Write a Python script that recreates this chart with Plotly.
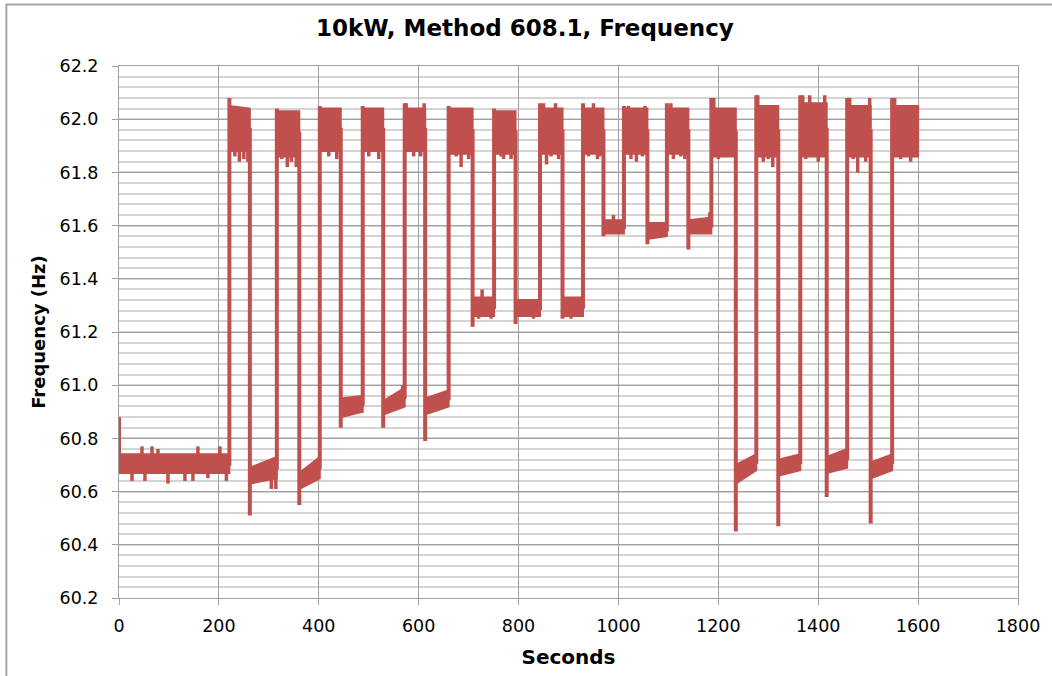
import plotly.graph_objects as go

# ---- data ----
# each segment: start time (s), band low/high at start and at end, transition overshoot
seg_start = [0, 221, 262, 316, 361, 402, 444, 488, 529, 572, 613, 660, 708, 751, 794, 843,
             888, 929, 970, 1011, 1058, 1097, 1140, 1186, 1235, 1276, 1320, 1364, 1417, 1458, 1505, 1548]
end_time = 1600
lo_start = [60.67, 61.88, 60.63, 61.86, 60.61, 61.88, 60.88, 61.88, 60.89, 61.88, 60.89, 61.87, 61.26, 61.87, 61.26, 61.87,
            61.26, 61.87, 61.57, 61.87, 61.55, 61.87, 61.57, 61.86, 60.63, 61.86, 60.66, 61.86, 60.67, 61.86, 60.65, 61.86]
hi_start = [60.74, 62.05, 60.69, 62.03, 60.67, 62.04, 60.95, 62.04, 60.94, 62.04, 60.95, 62.04, 61.33, 62.03, 61.32, 62.04,
            61.33, 62.04, 61.62, 62.04, 61.61, 62.04, 61.62, 62.04, 60.70, 62.05, 60.72, 62.06, 60.73, 62.05, 60.71, 62.05]
lo_end = [60.67, 61.88, 60.65, 61.86, 60.65, 61.88, 60.90, 61.88, 60.92, 61.88, 60.92, 61.87, 61.26, 61.87, 61.26, 61.87,
          61.26, 61.87, 61.57, 61.87, 61.56, 61.87, 61.57, 61.86, 60.68, 61.86, 60.68, 61.86, 60.69, 61.86, 60.68, 61.86]
hi_end = [60.74, 62.04, 60.73, 62.03, 60.73, 62.04, 60.96, 62.04, 60.99, 62.04, 60.98, 62.04, 61.33, 62.03, 61.32, 62.04,
          61.33, 62.04, 61.62, 62.04, 61.61, 62.04, 61.63, 62.04, 60.74, 62.05, 60.74, 62.06, 60.76, 62.05, 60.74, 62.05]
overshoot = [60.88, 62.08, 60.51, 62.04, 60.55, 62.05, 60.84, 62.05, 60.84, 62.06, 60.79, 62.05, 61.22, 62.04, 61.23, 62.06,
             61.25, 62.06, 61.56, 62.05, 61.53, 62.06, 61.51, 62.08, 60.45, 62.09, 60.47, 62.09, 60.58, 62.08, 60.48, 62.08]

# isolated excursions beyond the band
spike_t = [26, 52, 98, 132, 148, 178, 215, 46, 66, 78, 158, 202, 305, 314, 241, 258, 337, 355,
           685, 770, 856, 958, 1036, 1133, 1309, 1479,
           575, 611, 850, 874, 950, 1020, 1053, 1105, 1191, 1279, 1369, 1383, 1413, 1463, 1503, 1553,
           727, 990, 1183, 568, 720, 745, 830, 905,
           232, 250, 326, 345, 420, 436, 500, 520, 590, 604, 675, 700, 765, 785, 865, 880, 940, 962,
           1025, 1048, 1110, 1125, 1200, 1220, 1290, 1300, 1375, 1400, 1470, 1495, 1565, 1585]
spike_f = [60.64, 60.64, 60.63, 60.64, 60.64, 60.65, 60.64, 60.77, 60.77, 60.76, 60.77, 60.77, 60.61, 60.61, 61.84, 61.84, 61.82, 61.82,
           61.82, 61.85, 61.83, 61.85, 61.84, 61.85, 61.82, 61.80,
           62.06, 62.06, 62.06, 62.06, 62.06, 62.05, 62.05, 62.06, 62.08, 62.09, 62.09, 62.09, 62.09, 62.08, 62.08, 62.08,
           61.36, 61.64, 61.65, 61.00, 61.25, 61.25, 61.25, 61.25,
           61.86, 61.85, 61.85, 61.84, 61.86, 61.85, 61.86, 61.85, 61.86, 61.86, 61.86, 61.85, 61.86, 61.85, 61.86, 61.85, 61.86, 61.86,
           61.85, 61.86, 61.85, 61.86, 61.85, 61.86, 61.84, 61.85, 61.85, 61.84, 61.85, 61.84, 61.85, 61.84]

x_ticks = [0, 200, 400, 600, 800, 1000, 1200, 1400, 1600, 1800]
y_ticks = [60.2, 60.4, 60.6, 60.8, 61.0, 61.2, 61.4, 61.6, 61.8, 62.0, 62.2]

COLOR = "#C0504D"
seg_end = seg_start[1:] + [end_time]

# band polygons
bx, by = [], []
for t0, t1, a0, b0, a1, b1 in zip(seg_start, seg_end, lo_start, hi_start, lo_end, hi_end):
    bx += [t0, t1, t1, t0, t0, None]
    by += [b0, b1, a1, a0, b0, None]

# step path with transition overshoots
lx, ly = [], []
for t0, t1, a0, b0, a1, b1, ov in zip(seg_start, seg_end, lo_start, hi_start, lo_end, hi_end, overshoot):
    lx += [t0, t0, t1]
    ly += [ov, (a0 + b0) / 2, (a1 + b1) / 2]


def centre_at(t):
    for t0, t1, a0, b0, a1, b1 in zip(seg_start, seg_end, lo_start, hi_start, lo_end, hi_end):
        if t0 <= t <= t1:
            r = (t - t0) / (t1 - t0)
            return ((a0 + b0) / 2) * (1 - r) + ((a1 + b1) / 2) * r
    return None


sx, sy = [], []
for t, f in zip(spike_t, spike_f):
    sx += [t, t, None]
    sy += [centre_at(t), f, None]

fig = go.Figure()
fig.add_trace(go.Scatter(x=bx, y=by, mode="lines", fill="toself", fillcolor=COLOR,
                         line=dict(color=COLOR, width=2), hoverinfo="skip", showlegend=False))
fig.add_trace(go.Scatter(x=lx, y=ly, mode="lines", line=dict(color=COLOR, width=4),
                         showlegend=False))
fig.add_trace(go.Scatter(x=sx, y=sy, mode="lines", line=dict(color=COLOR, width=3.5),
                         hoverinfo="skip", showlegend=False))

FONT = "'DejaVu Sans', sans-serif"
fig.update_layout(
    width=1052, height=676,
    margin=dict(l=119, r=31, t=66, b=74),
    paper_bgcolor="white", plot_bgcolor="white",
    title=dict(text="<b>10kW, Method 608.1, Frequency</b>", x=0.499, xanchor="center",
               y=1 - 28 / 676, yanchor="middle", font=dict(family=FONT, size=23, color="black")),
    font=dict(family=FONT, color="black"),
    shapes=[dict(type="rect", xref="paper", yref="paper",
                 x0=(6 - 119) / 902, x1=(1070 - 119) / 902,
                 y0=(602 - 700) / 536, y1=(602 - 4) / 536,
                 line=dict(color="#A6A6A6", width=2), fillcolor="rgba(0,0,0,0)", layer="below")],
)
fig.update_xaxes(
    range=[0, 1800], tickvals=x_ticks, ticktext=[str(v) for v in x_ticks],
    showgrid=True, gridcolor="#A0A0A0", gridwidth=1,
    showline=True, linecolor="#A0A0A0", linewidth=1, mirror=True,
    ticks="outside", ticklen=6, tickcolor="#A0A0A0",
    ticklabelstandoff=6,
    tickfont=dict(family=FONT, size=17.5, color="black"),
    title=dict(text="<b>Seconds</b>", font=dict(family=FONT, size=20, color="black"), standoff=14),
    zeroline=False,
)
fig.update_yaxes(
    range=[60.2, 62.2], tickvals=y_ticks, ticktext=[f"{v:.1f}" for v in y_ticks],
    showgrid=True, gridcolor="#A0A0A0", gridwidth=1,
    minor=dict(dtick=0.04, tick0=60.2, showgrid=True, gridcolor="#D4D4D4", gridwidth=1.5),
    showline=True, linecolor="#A0A0A0", linewidth=1, mirror=True,
    ticks="outside", ticklen=6, tickcolor="#A0A0A0",
    ticklabelstandoff=10,
    tickfont=dict(family=FONT, size=17.5, color="black"),
    title=dict(text="<b>Frequency (Hz)</b>", font=dict(family=FONT, size=18, color="black"), standoff=9),
    zeroline=False,
)

fig.write_html("out.html", config={"displayModeBar": False},
               post_script="document.body.style.margin='0';")
